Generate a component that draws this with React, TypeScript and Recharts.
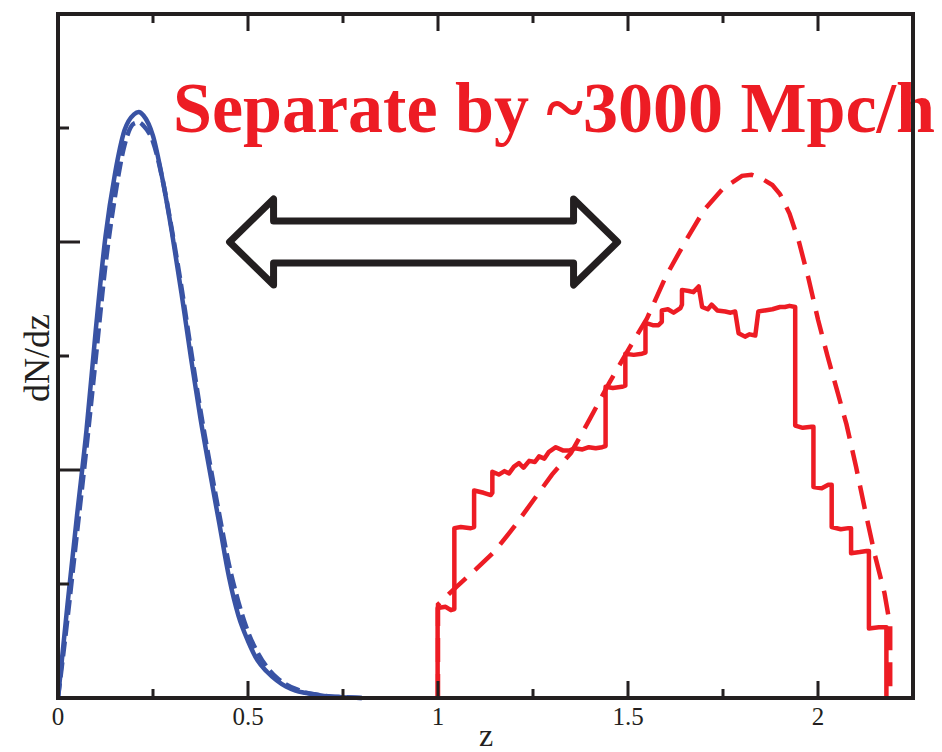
import { Customized, Line, LineChart, ReferenceDot, XAxis, YAxis } from "recharts";

const BLUE = "#3953a4";
const RED = "#ed1c24";
const INK = "#231f20";
const SERIF = "'Liberation Serif', 'Times New Roman', serif";

// blue pair (low-z sample)
const blueZ = [
  0, 0.025, 0.05, 0.075, 0.1, 0.125, 0.15, 0.175, 0.2, 0.2125, 0.225, 0.25,
  0.275, 0.3, 0.325, 0.35, 0.375, 0.4, 0.425, 0.45, 0.475, 0.5, 0.525, 0.55,
  0.575, 0.6, 0.625, 0.65, 0.675, 0.7, 0.75, 0.8,
];
const blueSolid = [
  0, 0.82, 1.6, 2.35, 3.25, 4.05, 4.6, 4.98, 5.12, 5.14, 5.11, 4.93, 4.55,
  4.08, 3.55, 2.98, 2.45, 1.98, 1.52, 1.06, 0.72, 0.5, 0.33, 0.23, 0.155, 0.1,
  0.065, 0.045, 0.03, 0.018, 0.006, 0,
];
const blueDashed = [
  0, 0.7, 1.45, 2.2, 3.0, 3.8, 4.4, 4.85, 5.04, 5.05, 5.02, 4.88, 4.55, 4.1,
  3.6, 3.05, 2.52, 2.05, 1.6, 1.17, 0.84, 0.58, 0.4, 0.27, 0.18, 0.12, 0.08,
  0.05, 0.033, 0.02, 0.008, 0,
];

// red pair (high-z sample)
const redDashedZ = [
  1.0, 1.0, 1.05, 1.1, 1.15, 1.2, 1.25, 1.3, 1.35, 1.4, 1.45, 1.5, 1.55, 1.6,
  1.65, 1.7, 1.75, 1.8, 1.825, 1.85, 1.88, 1.9, 1.925, 1.95, 1.975, 2.0,
  2.025, 2.05, 2.075, 2.1, 2.125, 2.15, 2.175, 2.19, 2.19,
];
const redDashedN = [
  0, 0.82, 0.98, 1.13, 1.29, 1.5, 1.73, 1.96, 2.15, 2.45, 2.76, 3.05, 3.33,
  3.7, 4.0, 4.28, 4.47, 4.58, 4.59, 4.56, 4.5, 4.42, 4.25, 4.0, 3.68, 3.32,
  3.0, 2.7, 2.4, 2.03, 1.63, 1.25, 0.92, 0.63, 0,
];
const redSolidZ = [
  0.999, 0.999, 1.02, 1.034, 1.043, 1.043, 1.06, 1.086, 1.095, 1.095, 1.12,
  1.139, 1.143, 1.143, 1.16, 1.175, 1.187, 1.2, 1.213, 1.225, 1.24, 1.255,
  1.266, 1.28, 1.292, 1.31, 1.33, 1.345, 1.36, 1.38, 1.397, 1.415, 1.432,
  1.441, 1.441, 1.46, 1.484, 1.493, 1.493, 1.515, 1.537, 1.546, 1.546, 1.565,
  1.58, 1.589, 1.589, 1.605, 1.62, 1.638, 1.642, 1.642, 1.66, 1.672, 1.686,
  1.695, 1.71, 1.72, 1.735, 1.756, 1.77, 1.782, 1.791, 1.808, 1.82, 1.835,
  1.843, 1.86, 1.88, 1.9, 1.913, 1.925, 1.94, 1.94, 1.96, 1.983, 1.988,
  1.988, 2.01, 2.027, 2.036, 2.036, 2.06, 2.08, 2.087, 2.087, 2.11, 2.128,
  2.134, 2.134, 2.16, 2.176, 2.18, 2.18,
];
const redSolidN = [
  0, 0.79, 0.8, 0.77, 0.78, 1.49, 1.5, 1.49, 1.5, 1.82, 1.8, 1.78, 1.8, 1.985,
  1.96, 1.99, 1.97, 2.03, 2.06, 2.02, 2.08, 2.07, 2.12, 2.1, 2.16, 2.2, 2.17,
  2.17, 2.19, 2.18, 2.2, 2.19, 2.2, 2.21, 2.73, 2.72, 2.73, 2.74, 3.02, 3.01,
  3.02, 3.03, 3.29, 3.27, 3.27, 3.3, 3.4, 3.41, 3.38, 3.42, 3.45, 3.58, 3.57,
  3.56, 3.61, 3.43, 3.41, 3.45, 3.4, 3.39, 3.38, 3.39, 3.2, 3.17, 3.19, 3.18,
  3.39, 3.4, 3.41, 3.43, 3.43, 3.44, 3.43, 2.39, 2.37, 2.38, 2.38, 1.85, 1.84,
  1.87, 1.87, 1.5, 1.48, 1.49, 1.49, 1.27, 1.28, 1.29, 1.29, 0.61, 0.62, 0.62,
  0.62, 0,
];

const xTicks = [0, 0.25, 0.5, 0.75, 1, 1.25, 1.5, 1.75, 2];
const xMajor = [0, 0.5, 1, 1.5, 2];
const yTicks = [1, 2, 3, 4, 5];

const pairs = (xs: number[], ys: number[]) => xs.map((z, i) => ({ z, n: ys[i] }));

const blueSolidData = pairs(blueZ, blueSolid);
const blueDashedData = pairs(blueZ, blueDashed);
const redDashedData = pairs(redDashedZ, redDashedN);
const redSolidData = pairs(redSolidZ, redSolidN);

const BottomTick = ({ x, y, payload }: any) => {
  const major = xMajor.includes(payload.value);
  return (
    <g>
      <line x1={x} y1={y} x2={x} y2={y - (major ? 17 : 9)} stroke={INK} strokeWidth={3} />
      {major && (
        <text x={x} y={y + 27} textAnchor="middle" fontFamily={SERIF} fontSize={25} fill={INK}>
          {String(payload.value)}
        </text>
      )}
    </g>
  );
};

const TopTick = ({ x, y, payload }: any) => {
  const major = xMajor.includes(payload.value);
  return <line x1={x} y1={y} x2={x} y2={y + (major ? 17 : 9)} stroke={INK} strokeWidth={3} />;
};

const LeftTick = ({ x, y, payload }: any) => (
  <line x1={x} y1={y} x2={x + (payload.value % 2 === 0 ? 22 : 11)} y2={y} stroke={INK} strokeWidth={3} />
);

const RightTick = ({ x, y, payload }: any) => (
  <line x1={x} y1={y} x2={x - (payload.value % 2 === 0 ? 22 : 11)} y2={y} stroke={INK} strokeWidth={3} />
);

const DoubleArrow = ({ cx, cy }: any) => {
  const pts = [
    [-194, 0], [-150, -43], [-150, -21], [150, -21], [150, -43],
    [194, 0], [150, 43], [150, 21], [-150, 21], [-150, 43],
  ]
    .map(([dx, dy]) => `${cx + dx},${cy + dy}`)
    .join(" ");
  return <polygon points={pts} fill="#fff" stroke={INK} strokeWidth={7} strokeLinejoin="round" />;
};

const Annotations = () => (
  <g>
    <text
      x={173}
      y={132}
      fontFamily={SERIF}
      fontWeight="bold"
      fontSize={72}
      fill={RED}
      textLength={762}
      lengthAdjust="spacingAndGlyphs"
    >
      Separate by ~3000 Mpc/h
    </text>
    <text x={486} y={746} textAnchor="middle" fontFamily={SERIF} fontSize={32} fill={INK}>
      z
    </text>
    <text
      x={36}
      y={358}
      textAnchor="middle"
      dy="0.35em"
      transform="rotate(-90 36 358)"
      fontFamily={SERIF}
      fontSize={36}
      fill={INK}
    >
      dN/dz
    </text>
  </g>
);

const frame = { stroke: INK, strokeWidth: 4, strokeLinecap: "square" as const };

export default function App() {
  return (
    <div style={{ position: "absolute", left: 0, top: 0, background: "#fff" }}>
      <LineChart width={942} height={752} margin={{ top: 13, right: 28, bottom: 53, left: 57 }}>
        <XAxis
          xAxisId="bottom"
          type="number"
          dataKey="z"
          domain={[0, 2.25]}
          ticks={xTicks}
          height={1}
          tickSize={0}
          tickMargin={0}
          axisLine={frame}
          tick={<BottomTick />}
          allowDataOverflow
        />
        <XAxis
          xAxisId="top"
          orientation="top"
          type="number"
          dataKey="z"
          domain={[0, 2.25]}
          ticks={xTicks}
          height={1}
          tickSize={0}
          tickMargin={0}
          axisLine={frame}
          tick={<TopTick />}
          allowDataOverflow
        />
        <YAxis
          yAxisId="left"
          type="number"
          domain={[0, 6]}
          ticks={yTicks}
          width={1}
          tickSize={0}
          tickMargin={0}
          axisLine={frame}
          tick={<LeftTick />}
        />
        <YAxis
          yAxisId="right"
          orientation="right"
          type="number"
          domain={[0, 6]}
          ticks={yTicks}
          width={1}
          tickSize={0}
          tickMargin={0}
          axisLine={frame}
          tick={<RightTick />}
        />
        <Line
          xAxisId="bottom"
          yAxisId="left"
          data={blueSolidData}
          dataKey="n"
          type="monotone"
          stroke={BLUE}
          strokeWidth={4.5}
          dot={false}
          isAnimationActive={false}
        />
        <Line
          xAxisId="bottom"
          yAxisId="left"
          data={blueDashedData}
          dataKey="n"
          type="monotone"
          stroke={BLUE}
          strokeWidth={4.5}
          strokeDasharray="15 6"
          dot={false}
          isAnimationActive={false}
        />
        <Line
          xAxisId="bottom"
          yAxisId="left"
          data={redDashedData}
          dataKey="n"
          type="linear"
          stroke={RED}
          strokeWidth={4.5}
          strokeDasharray="24 12"
          dot={false}
          isAnimationActive={false}
        />
        <Line
          xAxisId="bottom"
          yAxisId="left"
          data={redSolidData}
          dataKey="n"
          type="linear"
          stroke={RED}
          strokeWidth={4.5}
          strokeLinejoin="round"
          dot={false}
          isAnimationActive={false}
        />
        <ReferenceDot
          xAxisId="bottom"
          yAxisId="left"
          x={0.962}
          y={4}
          r={0}
          shape={<DoubleArrow />}
        />
        <Customized component={<Annotations />} />
      </LineChart>
    </div>
  );
}
